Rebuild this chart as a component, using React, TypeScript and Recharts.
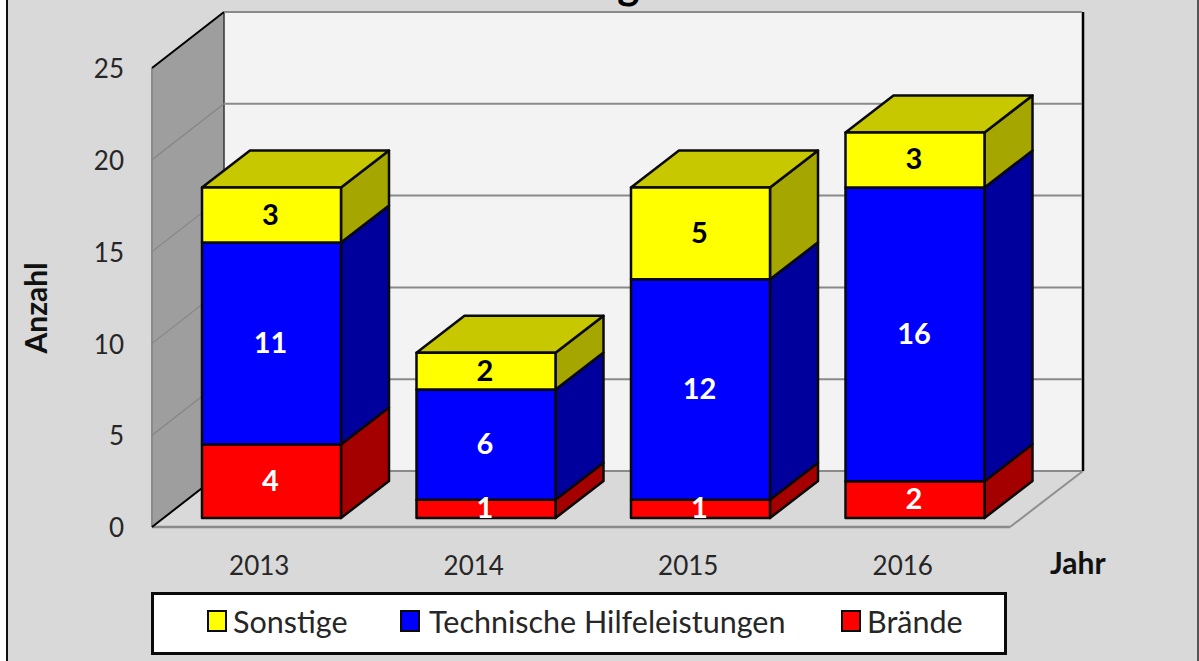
import React from "react";
import { BarChart, Bar, XAxis, YAxis, CartesianGrid, Legend, LabelList, Label } from "recharts";

const years = ["2013", "2014", "2015", "2016"];
const braende = [4, 1, 1, 2];
const hilfe = [11, 6, 12, 16];
const sonstige = [3, 2, 5, 3];
const yTicks = [0, 5, 10, 15, 20, 25];
const legendOrder = ["Sonstige", "Technische Hilfeleistungen", "Brände"];

const chartData = years.map((year, i) => ({
  year,
  braende: braende[i],
  hilfe: hilfe[i],
  sonstige: sonstige[i],
}));

const FONT = "Lato, 'Open Sans', sans-serif";
const WIDTH = 1199;
const HEIGHT = 661;
// plot area = front plane of the 3D box
const LEFT = 152;
const RIGHT = 1010;
const TOP = 68;
const BOTTOM = 527;
// depth of the box, and how far the bars sit inside it
const BOX_DX = 72;
const BOX_DY = -56;
const BAR_SHIFT_X = 12;
const BAR_SHIFT_Y = -9;
const BAR_DX = 48;
const BAR_DY = -37;

// walls sit in their own svg under the chart, the grid is drawn over them
const Backdrop = () => (
  <svg width={WIDTH} height={HEIGHT} style={{ position: "absolute", left: 0, top: 0 }}>
    <text x={636} y={-1} textAnchor="middle" fontFamily={FONT} fontWeight={700} fontSize={42} fill="#000">
      Einsatzentwicklung der letzten 4 Jahre
    </text>
    <polygon
      points={`${LEFT + BOX_DX},${TOP + BOX_DY} ${RIGHT + BOX_DX + 1},${TOP + BOX_DY} ${RIGHT + BOX_DX + 1},${BOTTOM + BOX_DY} ${LEFT + BOX_DX},${BOTTOM + BOX_DY}`}
      fill="#f3f3f3"
    />
    <polygon
      points={`${LEFT},${TOP} ${LEFT + BOX_DX},${TOP + BOX_DY} ${LEFT + BOX_DX},${BOTTOM + BOX_DY} ${LEFT},${BOTTOM}`}
      fill="#9e9e9e"
    />
    <line x1={LEFT} y1={BOTTOM} x2={RIGHT} y2={BOTTOM} stroke="#8a8a8a" strokeWidth={2.5} />
    <line x1={RIGHT} y1={BOTTOM} x2={RIGHT + BOX_DX + 1} y2={BOTTOM + BOX_DY} stroke="#8f8f8f" strokeWidth={2} />
    <line x1={LEFT} y1={TOP} x2={LEFT} y2={BOTTOM} stroke="#8a8a8a" strokeWidth={2} />
    <line x1={LEFT + BOX_DX} y1={TOP + BOX_DY} x2={LEFT + BOX_DX} y2={BOTTOM + BOX_DY} stroke="#333" strokeWidth={1.5} />
    <line x1={LEFT} y1={TOP} x2={LEFT + BOX_DX} y2={TOP + BOX_DY} stroke="#000" strokeWidth={2} />
    <line x1={LEFT} y1={BOTTOM} x2={LEFT + BOX_DX} y2={BOTTOM + BOX_DY} stroke="#000" strokeWidth={2} />
    <line x1={RIGHT + BOX_DX + 1} y1={TOP + BOX_DY} x2={RIGHT + BOX_DX + 1} y2={BOTTOM + BOX_DY} stroke="#000" strokeWidth={2.5} />
  </svg>
);

// grid lines run along the left wall and across the back wall
const gridLine = (props: any) => {
  const y = props.y1;
  return (
    <g key={props.key}>
      {y > TOP + 1 && y < BOTTOM - 1 && (
        <line x1={LEFT} y1={y} x2={LEFT + BOX_DX} y2={y + BOX_DY} stroke="#858585" strokeWidth={1.2} />
      )}
      <line x1={LEFT + BOX_DX} y1={y + BOX_DY} x2={RIGHT + BOX_DX} y2={y + BOX_DY} stroke="#8a8a8a" strokeWidth={2} />
    </g>
  );
};

const block = (front: string, side: string, top?: string) => (props: any) => {
  const { x, y, width, height } = props;
  const l = x + BAR_SHIFT_X;
  const r = l + width;
  const t = y + BAR_SHIFT_Y;
  const b = t + height;
  return (
    <g stroke="#0a0a0a" strokeWidth={2.5} strokeLinejoin="round">
      <polygon points={`${r},${t} ${r + BAR_DX},${t + BAR_DY} ${r + BAR_DX},${b + BAR_DY} ${r},${b}`} fill={side} />
      {top && (
        <polygon points={`${l},${t} ${l + BAR_DX},${t + BAR_DY} ${r + BAR_DX},${t + BAR_DY} ${r},${t}`} fill={top} />
      )}
      <rect x={l} y={t} width={width} height={height} fill={front} />
    </g>
  );
};

const valueLabel = (fill: string) => (props: any) => {
  const { x, y, width, height, value } = props;
  return (
    <text
      x={x + width / 2 + BAR_SHIFT_X - 1}
      y={y + height / 2 + BAR_SHIFT_Y - 2}
      textAnchor="middle"
      dominantBaseline="central"
      fontFamily={FONT}
      fontWeight={700}
      fontSize={29}
      fill={fill}
    >
      {value}
    </text>
  );
};

const swatchColors: Record<string, string> = {
  Sonstige: "#ffff00",
  "Technische Hilfeleistungen": "#0000ff",
  Brände: "#ff0000",
};

const legendBox = () => (
  <div
    style={{
      boxSizing: "border-box",
      width: 856,
      height: 63,
      background: "#fff",
      border: "3px solid #0a0a0a",
      display: "flex",
      alignItems: "center",
      fontFamily: FONT,
      fontSize: 30.5,
      color: "#262626",
    }}
  >
    {legendOrder.map((name, i) => (
      <div
        key={name}
        style={{
          position: "absolute",
          left: [56, 249, 690][i],
          top: 11,
          display: "flex",
          alignItems: "center",
          whiteSpace: "nowrap",
        }}
      >
        <span
          style={{
            boxSizing: "border-box",
            width: 20,
            height: 22,
            marginRight: i === 1 ? 9 : 6,
            background: swatchColors[name],
            border: "2px solid #0a0a0a",
          }}
        />
        {name}
      </div>
    ))}
  </div>
);

const tickStyle = { fontFamily: FONT, fontSize: 26, fill: "#262626" };
const axisTitle = { fontFamily: FONT, fontSize: 30, fontWeight: 700, fill: "#111" };

export default function App() {
  return (
    <div style={{ position: "absolute", left: 0, top: 0, width: WIDTH, height: HEIGHT, background: "#fff", overflow: "hidden" }}>
      <div
        style={{
          position: "absolute",
          left: 6,
          top: 0,
          width: 1193,
          height: HEIGHT,
          boxSizing: "border-box",
          background: "#d9d9d9",
          borderLeft: "2px solid #111",
          borderRight: "2px solid #555",
        }}
      />
      <Backdrop />
      <div style={{ position: "absolute", left: 0, top: 0 }}>
        <BarChart
          width={WIDTH}
          height={HEIGHT}
          data={chartData}
          margin={{ top: TOP, right: WIDTH - RIGHT, bottom: HEIGHT - BOTTOM - 50, left: LEFT - 130 }}
          barSize={139}
        >
          <CartesianGrid vertical={false} horizontal={gridLine} />
          <XAxis
            dataKey="year"
            height={50}
            axisLine={false}
            tickLine={false}
            tickMargin={24}
            tick={tickStyle}
            interval={0}
          >
            <Label value="Jahr" position="right" offset={40} dy={11} style={axisTitle} />
          </XAxis>
          <YAxis
            width={130}
            domain={[0, 25]}
            ticks={yTicks}
            axisLine={false}
            tickLine={false}
            tickMargin={22}
            tick={{ ...tickStyle, dy: 1 }}
          >
            <Label value="Anzahl" angle={-90} position="insideLeft" offset={14} dy={56} style={axisTitle} />
          </YAxis>
          <Bar dataKey="braende" name="Brände" stackId="a" fill="#ff0000" isAnimationActive={false} shape={block("#ff0000", "#a50000")}>
            <LabelList dataKey="braende" content={valueLabel("#fff")} />
          </Bar>
          <Bar dataKey="hilfe" name="Technische Hilfeleistungen" stackId="a" fill="#0000ff" isAnimationActive={false} shape={block("#0000ff", "#00009c")}>
            <LabelList dataKey="hilfe" content={valueLabel("#fff")} />
          </Bar>
          <Bar dataKey="sonstige" name="Sonstige" stackId="a" fill="#ffff00" isAnimationActive={false} shape={block("#ffff00", "#a6a600", "#c8c800")}>
            <LabelList dataKey="sonstige" content={valueLabel("#000")} />
          </Bar>
          <Legend
            layout="horizontal"
            verticalAlign="middle"
            content={legendBox}
            wrapperStyle={{ position: "absolute", left: 151, top: 592, width: 856, height: 63 }}
          />
        </BarChart>
      </div>
    </div>
  );
}
